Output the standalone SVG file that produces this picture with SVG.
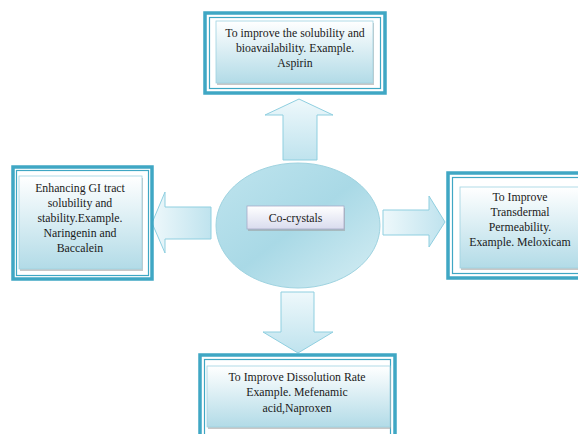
<svg xmlns="http://www.w3.org/2000/svg" width="578" height="434" viewBox="0 0 578 434">
<defs>
<linearGradient id="boxG" x1="0" y1="0" x2="0" y2="1">
<stop offset="0" stop-color="#ffffff"/>
<stop offset="1" stop-color="#b2dbe7"/>
</linearGradient>
<linearGradient id="arrV" x1="0" y1="0" x2="0" y2="1">
<stop offset="0" stop-color="#eef8fb"/>
<stop offset="1" stop-color="#bfe3ee"/>
</linearGradient>
<linearGradient id="arrH" x1="0" y1="0" x2="1" y2="0">
<stop offset="0" stop-color="#eef8fb"/>
<stop offset="1" stop-color="#bfe3ee"/>
</linearGradient>
<linearGradient id="ellG" x1="0" y1="0" x2="1" y2="1">
<stop offset="0" stop-color="#bfe4ee"/>
<stop offset="0.5" stop-color="#a9d9e6"/>
<stop offset="1" stop-color="#d6eef4"/>
</linearGradient>
<linearGradient id="labG" x1="0" y1="0" x2="0" y2="1">
<stop offset="0" stop-color="#ffffff"/>
<stop offset="1" stop-color="#d9dcee"/>
</linearGradient>
</defs>
<style>
.outer{fill:#ffffff;stroke:#3fa7c4;stroke-width:3.5}
.thin{fill:none;stroke:#3fa7c4;stroke-width:1.2}
.shadow{fill:#9a9a9a;opacity:0.55}
.inner{fill:url(#boxG);stroke:#9fd3e2;stroke-width:0.8}
.arr{stroke:#8fcfe0;stroke-width:1}
text{font-family:"Liberation Serif","Times New Roman",serif;font-size:11.8px;fill:#1a1a1a;text-anchor:middle}
</style>

<g id="connectors">
<path class="arr" fill="url(#arrV)" d="M299,99 L333,115 L317,115 L317,160 L283,160 L283,115 L265,115 Z"/>
<path class="arr" fill="url(#arrH)" d="M152,223 L165,192 L165,207 L211,207 L211,239 L165,239 L165,253 Z"/>
<path class="arr" fill="url(#arrH)" d="M445,222 L429,247 L429,235 L383,235 L383,210 L429,210 L429,196 Z"/>
<path class="arr" fill="url(#arrV)" d="M298,353 L263,332 L281,332 L281,292 L314,292 L314,332 L333,332 Z"/>
</g>

<g id="center">
<ellipse cx="298" cy="225.5" rx="82" ry="62.5" fill="url(#ellG)" stroke="#9fd3e0" stroke-width="1"/>
<rect class="shadow" x="248" y="208" width="97" height="23"/>
<rect x="247" y="206" width="97" height="23" fill="url(#labG)" stroke="#a7abc8" stroke-width="0.8"/>
<text x="295.5" y="221.5">Co-crystals</text>
</g>

<g id="top">
<rect class="outer" x="205" y="13" width="180" height="80"/>
<rect class="thin" x="209.5" y="17.5" width="171" height="71"/>
<rect class="shadow" x="217" y="23" width="157" height="62"/>
<rect class="inner" x="216" y="21" width="157" height="62"/>
<text x="295" y="37">To improve the solubility and</text>
<text x="295" y="52">bioavailability. Example.</text>
<text x="295" y="67">Aspirin</text>
</g>

<g id="left">
<rect class="outer" x="13" y="167" width="139" height="112"/>
<rect class="thin" x="16.5" y="170.5" width="132" height="105"/>
<rect class="shadow" x="20" y="178" width="123" height="93"/>
<rect class="inner" x="19" y="176" width="123" height="93"/>
<text x="80" y="192">Enhancing GI tract</text>
<text x="80" y="207">solubility and</text>
<text x="80" y="222">stability.Example.</text>
<text x="80" y="237">Naringenin and</text>
<text x="80" y="252">Baccalein</text>
</g>

<g id="right">
<rect class="outer" x="448" y="173" width="140" height="105"/>
<rect class="thin" x="452.5" y="177.5" width="140" height="96"/>
<rect class="shadow" x="461" y="189" width="130" height="81"/>
<rect class="inner" x="460" y="187" width="130" height="81"/>
<text x="520" y="201">To Improve</text>
<text x="520" y="216">Transdermal</text>
<text x="520" y="231">Permeability.</text>
<text x="520" y="246">Example. Meloxicam</text>
</g>

<g id="bottom">
<rect class="outer" x="200" y="355" width="195" height="90"/>
<rect class="thin" x="204.5" y="359.5" width="186" height="80"/>
<rect class="shadow" x="208" y="368" width="183" height="61"/>
<rect class="inner" x="207" y="366" width="183" height="61"/>
<text x="297" y="381">To Improve Dissolution Rate</text>
<text x="297" y="396">Example. Mefenamic</text>
<text x="297" y="412">acid,Naproxen</text>
</g>
</svg>
